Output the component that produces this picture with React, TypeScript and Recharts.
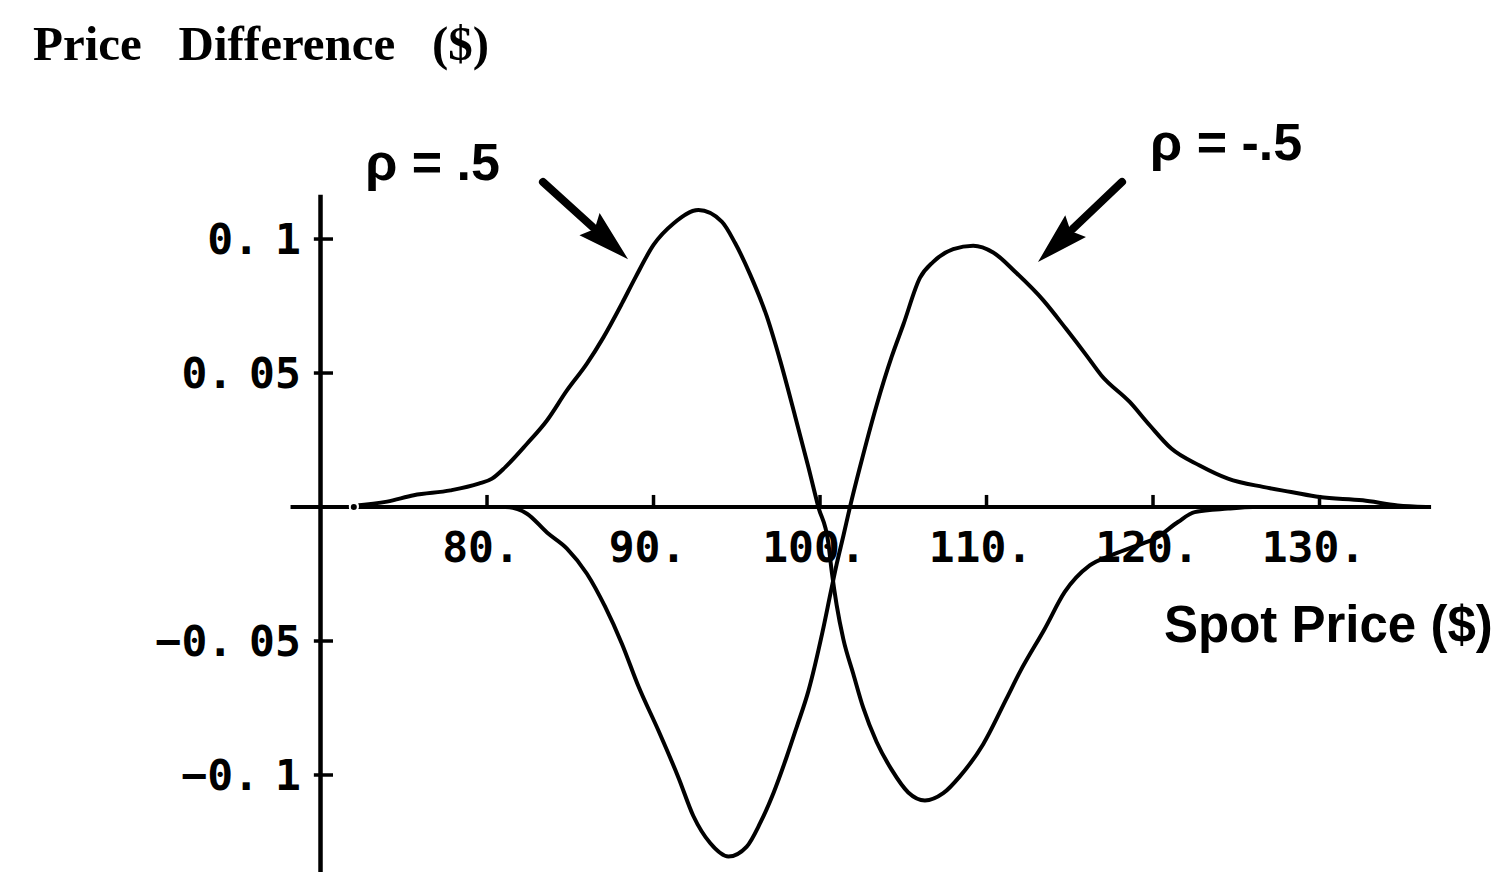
import { LineChart, Line, XAxis, YAxis, ReferenceLine } from "recharts";

// price difference curves, rho = .5 and rho = -.5
const rhoPlusSpot = [
  72, 74, 75.6, 77.8, 79.5, 80.3, 81.1, 82.4, 83.6, 84.8, 86.0, 87.0, 88.1,
  88.9, 90.0, 91.2, 92.7, 94.1, 94.9, 95.8, 96.8, 97.6, 98.5, 99.3, 99.9,
  100.5, 100.7, 101.0, 101.4, 102.0, 102.6, 103.4, 104.3, 105.3, 106.3, 107.4,
  108.4, 109.8, 111.2, 112.0, 113.5, 114.7, 116.2, 117.5, 118.8, 120.2, 121.5,
  122.5, 124.5, 126, 136.5,
];
const rhoPlusDiff = [
  0.0005, 0.002, 0.0044, 0.0062, 0.0087, 0.0106, 0.0149, 0.0236, 0.0323,
  0.0435, 0.0535, 0.0634, 0.0759, 0.0855, 0.0978, 0.1058, 0.1108, 0.1065,
  0.0985, 0.0868, 0.0712, 0.0548, 0.034, 0.0149, 0.0, -0.0134, -0.0239,
  -0.0366, -0.0493, -0.0623, -0.075, -0.0877, -0.098, -0.1065, -0.1095,
  -0.1068, -0.1005, -0.0885, -0.0715, -0.0616, -0.0454, -0.0317, -0.0218,
  -0.018, -0.0149, -0.0115, -0.0056, -0.0019, -0.0006, 0, 0,
];

const rhoMinusSpot = [
  72, 80, 81.1, 82.4, 83.6, 84.8, 86.0, 87.1, 88.1, 89.1, 90.3, 91.5, 92.4,
  93.4, 94.5, 95.6, 96.4, 97.2, 98.0, 98.6, 99.3, 100.15, 100.66, 101.0, 101.4,
  101.8, 102.4, 103.4, 104.3, 105.0, 106.0, 106.8, 108.0, 109.2, 110.4, 111.8,
  113.4, 114.8, 116.0, 116.9, 118.6, 119.8, 121.1, 122.8, 124.5, 126.6, 128.3,
  130.0, 132.6, 134.7, 136.4,
];
const rhoMinusDiff = [
  0, 0, 0, -0.0025, -0.0095, -0.0155, -0.0249, -0.0373, -0.051, -0.067,
  -0.0835, -0.101, -0.1154, -0.1254, -0.1304, -0.1267, -0.118, -0.1068,
  -0.0932, -0.0821, -0.0687, -0.0466, -0.0313, -0.0213, -0.0108, 0, 0.0149,
  0.038, 0.056, 0.068, 0.0855, 0.0915, 0.0962, 0.0975, 0.095, 0.0873, 0.0772,
  0.0663, 0.0566, 0.0491, 0.0392, 0.0305, 0.0218, 0.0155, 0.0106, 0.0075,
  0.0056, 0.0037, 0.0025, 0.0006, 0,
];

const xTicks = [80, 90, 100, 110, 120, 130];
const xTickLabels = ["80.", "90.", "100.", "110.", "120.", "130."];
const yTicks = [0.1, 0.05, -0.05, -0.1];
const yTickLabels = ["0. 1", "0. 05", "\u22120. 05", "\u22120. 1"];

const X_DOMAIN: [number, number] = [50.75, 141.14];
const Y_DOMAIN: [number, number] = [-0.1362, 0.1892];
const ORIGIN_X = 70;

const W = 1505;
const H = 872;
const INK = "#000";
const MONO = "'DejaVu Sans Mono', monospace";
const SANS = "'Liberation Sans', Arial, sans-serif";

const plusData = rhoPlusSpot.map((x, i) => ({ x, y: rhoPlusDiff[i] }));
const minusData = rhoMinusSpot.map((x, i) => ({ x, y: rhoMinusDiff[i] }));

const axisShape = (width: number) => (p: any) => (
  <line x1={p.x1} y1={p.y1} x2={p.x2} y2={p.y2} stroke={INK} strokeWidth={width} />
);

const xTickShape = (label: string) => (p: any) => (
  <g>
    <line x1={p.x1} y1={p.y1} x2={p.x2} y2={p.y2} stroke={INK} strokeWidth={3.5} />
    <text
      x={p.x1 - 6}
      y={p.y1 + 55}
      textAnchor="middle"
      fontFamily={MONO}
      fontWeight="bold"
      fontSize={43}
      fill={INK}
      style={{ whiteSpace: "pre" }}
    >
      {label}
    </text>
  </g>
);

const yTickShape = (label: string) => (p: any) => (
  <g>
    <line x1={p.x1} y1={p.y1} x2={p.x2} y2={p.y2} stroke={INK} strokeWidth={3.5} />
    <text
      x={p.x1 - 13}
      y={p.y1 + 15}
      textAnchor="end"
      fontFamily={MONO}
      fontWeight="bold"
      fontSize={43}
      wordSpacing={-10}
      fill={INK}
      style={{ whiteSpace: "pre" }}
    >
      {label}
    </text>
  </g>
);

// arrow from (x1,y1) to tip (x2,y2) with its text near the tail
const arrowShape =
  (label: string, anchor: "start" | "end", dx: number, dy: number) =>
  (p: any) => {
    const { x1, y1, x2, y2 } = p;
    const a = Math.atan2(y2 - y1, x2 - x1);
    const headLen = 52;
    const half = 15;
    const bx = x2 - headLen * Math.cos(a);
    const by = y2 - headLen * Math.sin(a);
    const nx = -Math.sin(a) * half;
    const ny = Math.cos(a) * half;
    return (
      <g>
        <line
          x1={x1}
          y1={y1}
          x2={bx + 4 * Math.cos(a)}
          y2={by + 4 * Math.sin(a)}
          stroke={INK}
          strokeWidth={8}
          strokeLinecap="round"
        />
        <polygon
          points={`${x2},${y2} ${bx + nx},${by + ny} ${bx + 7 * Math.cos(a)},${by + 7 * Math.sin(a)} ${bx - nx},${by - ny}`}
          fill={INK}
        />
        <text
          x={x1 + dx}
          y={y1 + dy}
          textAnchor={anchor}
          fontFamily={SANS}
          fontWeight="bold"
          fontSize={52}
          fill={INK}
          style={{ whiteSpace: "pre" }}
        >
          {label}
        </text>
      </g>
    );
  };

export default function App() {
  return (
    <div
      style={{
        position: "absolute",
        left: 0,
        top: 0,
        width: W,
        height: H,
        background: "#fff",
        overflow: "hidden",
      }}
    >
      <LineChart width={W} height={H} margin={{ top: 0, right: 0, bottom: 0, left: 0 }}>
        <XAxis type="number" dataKey="x" domain={X_DOMAIN} allowDataOverflow hide />
        <YAxis type="number" domain={Y_DOMAIN} allowDataOverflow hide />

        {/* axes crossing at (70, 0) */}
        <ReferenceLine
          segment={[
            { x: 68.2, y: 0 },
            { x: 136.7, y: 0 },
          ]}
          shape={axisShape(4)}
        />
        <ReferenceLine
          segment={[
            { x: ORIGIN_X, y: 0.1165 },
            { x: ORIGIN_X, y: Y_DOMAIN[0] },
          ]}
          shape={axisShape(4.5)}
        />

        {xTicks.map((v, i) => (
          <ReferenceLine
            key={`xt${v}`}
            segment={[
              { x: v, y: 0 },
              { x: v, y: 0.0045 },
            ]}
            shape={xTickShape(xTickLabels[i])}
          />
        ))}
        {yTicks.map((v, i) => (
          <ReferenceLine
            key={`yt${v}`}
            segment={[
              { x: ORIGIN_X - 0.4, y: v },
              { x: ORIGIN_X + 0.75, y: v },
            ]}
            shape={yTickShape(yTickLabels[i])}
          />
        ))}

        <Line
          data={plusData}
          dataKey="y"
          type="monotone"
          stroke={INK}
          strokeWidth={4}
          dot={false}
          isAnimationActive={false}
        />
        <Line
          data={minusData}
          dataKey="y"
          type="monotone"
          stroke={INK}
          strokeWidth={4}
          dot={false}
          isAnimationActive={false}
        />

        <ReferenceLine
          segment={[
            { x: 83.36, y: 0.1213 },
            { x: 88.47, y: 0.0925 },
          ]}
          shape={arrowShape("\u03c1 = .5", "end", -43, -2)}
        />
        <ReferenceLine
          segment={[
            { x: 118.14, y: 0.1213 },
            { x: 113.09, y: 0.0914 },
          ]}
          shape={arrowShape("\u03c1 = -.5", "start", 28, -22)}
        />
      </LineChart>

      <svg
        width={W}
        height={H}
        style={{ position: "absolute", left: 0, top: 0, pointerEvents: "none" }}
      >
        <text
          x={33}
          y={60}
          fontFamily="'Liberation Serif', 'Times New Roman', serif"
          fontWeight="bold"
          fontSize={49}
          fill={INK}
          style={{ whiteSpace: "pre" }}
        >
          {"Price   Difference   ($)"}
        </text>
        <text
          x={1164}
          y={642}
          fontFamily={SANS}
          fontWeight="bold"
          fontSize={51}
          fill={INK}
          style={{ whiteSpace: "pre" }}
        >
          Spot Price ($)
        </text>
      </svg>
    </div>
  );
}
